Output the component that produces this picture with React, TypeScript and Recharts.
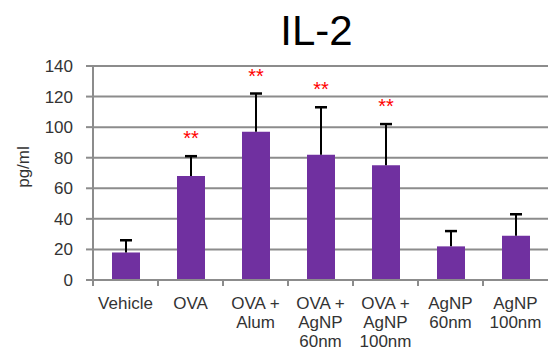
import React from "react";
import { Bar, BarChart, CartesianGrid, LabelList, XAxis, YAxis } from "recharts";

const categoryLines: string[][] = [
  ["Vehicle"],
  ["OVA"],
  ["OVA +", "Alum"],
  ["OVA +", "AgNP", "60nm"],
  ["OVA +", "AgNP", "100nm"],
  ["AgNP", "60nm"],
  ["AgNP", "100nm"],
];
const categories = categoryLines.map((l) => l.join(" "));
const means = [18, 68, 97, 82, 75, 22, 29];
const errors = [8, 13, 25, 31, 27, 10, 14];
const marks = ["", "**", "**", "**", "**", "", ""];
const yTicks = [0, 20, 40, 60, 80, 100, 120, 140];

const data = categories.map((name, i) => ({
  name,
  mean: means[i],
  err: errors[i],
  mark: marks[i],
}));

const W = 548;
const H = 363;
const LEFT = 93;
const TOP = 66;
const BOTTOM = 83;
const PURPLE = "#7030A0";
const GRID = "#8c8c8c";
const FONT = "'Liberation Sans', Arial, sans-serif";
const band = (W - LEFT) / categories.length;

function CategoryTick(props: any) {
  const { x, y, payload, index } = props;
  const lines = categoryLines[index] ?? [String(payload.value)];
  return (
    <g>
      <line x1={x - band / 2} x2={x - band / 2} y1={y} y2={y + 6} stroke={GRID} strokeWidth={2} />
      <text x={x} y={y + 29} textAnchor="middle" fontSize={17} fill="#333" fontFamily={FONT}>
        {lines.map((ln, i) => (
          <tspan key={i} x={x} dy={i === 0 ? 0 : 19}>
            {ln}
          </tspan>
        ))}
      </text>
    </g>
  );
}

// upper error whisker: the stacked "err" segment spans mean..mean+err
function Whisker(props: any) {
  const { x, y, width, height } = props;
  if (height == null || isNaN(y)) return null;
  const cx = x + width / 2;
  return (
    <g>
      <line x1={cx} x2={cx} y1={y} y2={y + height} stroke="#000" strokeWidth={2} />
      <line x1={cx - 6} x2={cx + 6} y1={y} y2={y} stroke="#000" strokeWidth={2.5} />
    </g>
  );
}

export default function App() {
  return (
    <div style={{ position: "absolute", left: 0, top: 0, width: W, height: H, background: "#fff" }}>
      <BarChart width={W} height={H} data={data} margin={{ top: TOP, right: 0, bottom: 0, left: 0 }}>
        <CartesianGrid vertical={false} stroke={GRID} strokeWidth={2} />
        <XAxis
          dataKey="name"
          height={BOTTOM}
          stroke={GRID}
          strokeWidth={2}
          tickLine={false}
          tickSize={0}
          tickMargin={0}
          interval={0}
          tick={<CategoryTick />}
        />
        <YAxis
          width={LEFT}
          domain={[0, 140]}
          ticks={yTicks}
          stroke={GRID}
          strokeWidth={2}
          tickSize={7}
          tickMargin={13}
          tick={{ fontSize: 17, fill: "#333", fontFamily: FONT }}
        />
        <Bar dataKey="mean" stackId="s" fill={PURPLE} barSize={28} isAnimationActive={false} />
        <Bar dataKey="err" stackId="s" barSize={28} shape={<Whisker />} isAnimationActive={false}>
          <LabelList
            dataKey="mark"
            position="top"
            offset={11}
            fill="#ff0000"
            fontSize={20}
            fontFamily={FONT}
          />
        </Bar>
      </BarChart>
      <svg width={W} height={H} style={{ position: "absolute", left: 0, top: 0, pointerEvents: "none" }}>
        <text x={316.5} y={45} textAnchor="middle" fontSize={42} fill="#000" fontFamily={FONT}>
          IL-2
        </text>
        <text
          x={29}
          y={167}
          transform="rotate(-90, 29, 167)"
          textAnchor="middle"
          fontSize={17}
          fill="#333"
          fontFamily={FONT}
        >
          pg/ml
        </text>
      </svg>
    </div>
  );
}
